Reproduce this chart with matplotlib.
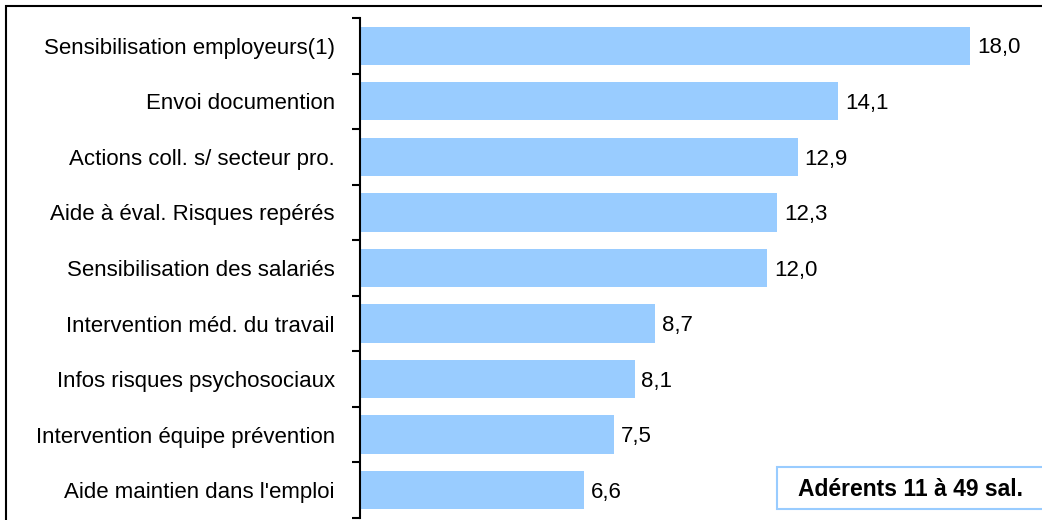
import matplotlib
matplotlib.use("Agg")
import matplotlib.pyplot as plt
from matplotlib.patches import Rectangle

categories = ["Sensibilisation employeurs(1)", "Envoi documention", "Actions coll. s/ secteur pro.",
              "Aide à éval. Risques repérés", "Sensibilisation des salariés", "Intervention méd. du travail",
              "Infos risques psychosociaux", "Intervention équipe prévention", "Aide maintien dans l'emploi"]
values = [18.0, 14.1, 12.9, 12.3, 12.0, 8.7, 8.1, 7.5, 6.6]
box_text = "Adérents 11 à 49 sal."

plt.rcParams['font.family'] = ['Liberation Sans', 'DejaVu Sans']

W, H = 1042, 520
fig = plt.figure(figsize=(W/100, H/100), dpi=100)
ax = fig.add_axes([360/W, 2/H, (1040-360)/W, 500/H])

n = len(categories)
ypos = list(range(n))
ax.barh(ypos, values, height=0.69, color="#99CCFF", edgecolor="none")
ax.set_ylim(n - 0.5, -0.5)
ax.set_xlim(0, 20.05)
ax.set_yticks(ypos)
ax.set_yticklabels(categories, fontsize=16)
ax.set_yticks([i - 0.5 for i in range(n + 1)], minor=True)
ax.tick_params(axis='y', which='major', length=0, pad=18)
ax.tick_params(axis='y', which='minor', length=6, width=1.5, direction='out')
ax.set_xticks([])
for s in ["top", "right", "bottom"]:
    ax.spines[s].set_visible(False)
ax.spines["left"].set_linewidth(1.5)

for y, v in zip(ypos, values):
    ax.text(v + 0.2, y + 0.04, f"{v:.1f}".replace(".", ","), va="center", ha="left", fontsize=16)

fig.add_artist(Rectangle((777/W, 1 - 509/H), 300/W, 42/H, transform=fig.transFigure,
                         fc="white", ec="#99CCFF", lw=1.5))
fig.text(911/W, 1 - 489/H, box_text, ha="center", va="center", fontsize=16.5,
         fontweight="bold")

fig.add_artist(Rectangle((6/W, -0.1), 1.2, 1 - 6/H + 0.1, transform=fig.transFigure,
                         fill=False, ec="black", lw=1.5))

fig.savefig("out.png", dpi=100)
